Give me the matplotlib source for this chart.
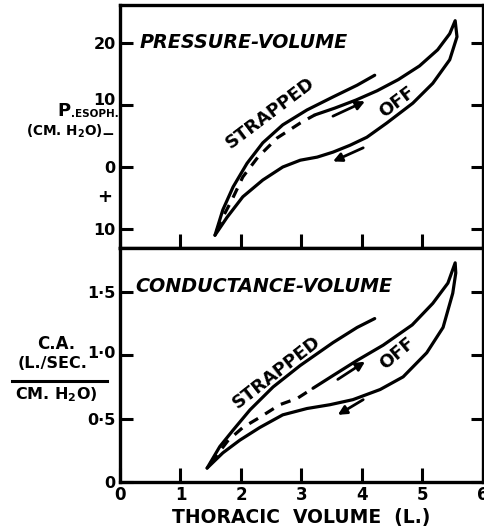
import matplotlib
matplotlib.use("Agg")
import matplotlib.pyplot as plt
import matplotlib.transforms as mtransforms

# ---------------- data ----------------
# top panel: pressure-volume (P.esoph, cm H2O; up = negative)
pv_strapped_x = [1.57, 1.70, 1.87, 2.10, 2.36, 2.69, 3.09, 3.52, 3.92, 4.21]
pv_strapped_y = [-11.0, -6.9, -3.2, 0.6, 3.9, 6.8, 9.2, 11.3, 13.2, 14.8]
pv_off_dash_x = [1.60, 1.65, 1.85, 2.03, 2.28, 2.60, 2.98, 3.22]
pv_off_dash_y = [-10.3, -9.0, -5.3, -1.6, 1.6, 4.7, 7.1, 8.4]
pv_off_up_x = [3.22, 3.55, 3.90, 4.25, 4.60, 4.95, 5.25, 5.45, 5.54]
pv_off_up_y = [8.4, 9.5, 10.8, 12.3, 14.1, 16.3, 18.9, 21.5, 23.6]
pv_off_low_x = [1.57, 1.77, 2.03, 2.36, 2.69, 2.98, 3.26, 3.52, 3.80, 4.08,
                4.41, 4.84, 5.17, 5.45, 5.57, 5.54]
pv_off_low_y = [-11.0, -8.1, -4.8, -2.1, 0.0, 1.1, 1.6, 2.4, 3.5, 4.8,
                7.1, 10.3, 13.5, 17.3, 21.0, 23.6]
pv_arrow_in = [(3.52, 8.2), (4.05, 10.6)]
pv_arrow_out = [(4.02, 3.1), (3.52, 0.9)]
pv_yticks = [20, 10, 0, -10]
pv_yticklabels = ["20", "10", "0", "10"]

# bottom panel: conductance-volume
cv_strapped_x = [1.44, 1.65, 1.87, 2.15, 2.53, 2.98, 3.52, 3.92, 4.21]
cv_strapped_y = [0.11, 0.28, 0.41, 0.57, 0.75, 0.92, 1.10, 1.22, 1.29]
cv_off_dash_x = [1.50, 1.79, 2.03, 2.31, 2.64, 2.93, 3.19]
cv_off_dash_y = [0.15, 0.33, 0.43, 0.51, 0.61, 0.66, 0.74]
cv_off_up_x = [3.19, 3.52, 3.92, 4.35, 4.83, 5.17, 5.42, 5.54]
cv_off_up_y = [0.74, 0.84, 0.96, 1.08, 1.24, 1.41, 1.57, 1.73]
cv_off_low_x = [1.44, 1.70, 1.98, 2.31, 2.69, 3.09, 3.47, 3.85, 4.30, 4.68,
                5.07, 5.34, 5.50, 5.55, 5.54]
cv_off_low_y = [0.11, 0.23, 0.33, 0.43, 0.53, 0.58, 0.61, 0.65, 0.73, 0.83,
                1.02, 1.22, 1.49, 1.65, 1.73]
cv_arrow_in = [(3.60, 0.81), (4.05, 0.95)]
cv_arrow_out = [(4.02, 0.65), (3.60, 0.53)]
cv_yticks = [0, 0.5, 1.0, 1.5]
cv_yticklabels = ["0", "0·5", "1·0", "1·5"]

x_ticks = [0, 1, 2, 3, 4, 5, 6]
x_ticklabels = ["0", "1", "2", "3", "4", "5", "6"]

# ---------------- figure ----------------
W, H = 485, 526
fig = plt.figure(figsize=(W / 100, H / 100), dpi=100)
plt.rcParams["font.family"] = ["DejaVu Sans"]
plt.rcParams["font.weight"] = "bold"

def fx(px):
    return px / W

def fy(py):
    return 1 - py / H

ax1 = fig.add_axes([fx(120), fy(248), (483 - 120) / W, (248 - 5) / H])
ax2 = fig.add_axes([fx(120), fy(482), (483 - 120) / W, (482 - 248) / H])

LW = 2.3
for ax in (ax1, ax2):
    for s in ax.spines.values():
        s.set_linewidth(2.4)
    ax.set_xlim(0, 6)
    ax.set_xticks(x_ticks)
    ax.tick_params(axis="both", direction="in", length=9, width=2.2,
                   right=True, top=False, labelsize=11.5, pad=3)
    ax.tick_params(axis="x", length=10)

ax1.set_ylim(-13.06, 26.13)
ax2.set_ylim(0, 1.847)
ax1.set_yticks(pv_yticks)
ax1.set_yticklabels(pv_yticklabels)
ax2.set_yticks(cv_yticks)
ax2.set_yticklabels(cv_yticklabels)
ax1.tick_params(axis="x", labelbottom=False)
ax2.set_xticklabels(x_ticklabels)
ax2.tick_params(axis="x", pad=3, labelsize=12)
for lab in ax1.get_yticklabels() + ax2.get_yticklabels() + ax2.get_xticklabels():
    lab.set_fontweight("bold")

# raised "10" label as in the original lettering
raise_t = mtransforms.ScaledTranslation(0, 4.5 / 72, fig.dpi_scale_trans)
lab10 = ax1.get_yticklabels()[1]
lab10.set_transform(lab10.get_transform() + raise_t)
raise_t2 = mtransforms.ScaledTranslation(0, 2.5 / 72, fig.dpi_scale_trans)
lab1 = ax2.get_yticklabels()[2]
lab1.set_transform(lab1.get_transform() + raise_t2)

def draw(ax, sx, sy, dx, dy, ux, uy, lx, ly, ain, aout):
    ax.plot(sx, sy, color="black", lw=LW, solid_capstyle="round",
            solid_joinstyle="round")
    ax.plot(dx, dy, color="black", lw=LW, linestyle=(0, (3.2, 2.6)))
    ax.plot(lx + ux[::-1], ly + uy[::-1], color="black", lw=LW,
            solid_capstyle="round", solid_joinstyle="round")
    for (a, b) in (ain, aout):
        ax.annotate("", xy=b, xytext=a,
                    arrowprops=dict(arrowstyle="-|>", color="black", lw=2.0,
                                    mutation_scale=13, shrinkA=0, shrinkB=0))

draw(ax1, pv_strapped_x, pv_strapped_y, pv_off_dash_x, pv_off_dash_y,
     pv_off_up_x, pv_off_up_y, pv_off_low_x, pv_off_low_y,
     pv_arrow_in, pv_arrow_out)
draw(ax2, cv_strapped_x, cv_strapped_y, cv_off_dash_x, cv_off_dash_y,
     cv_off_up_x, cv_off_up_y, cv_off_low_x, cv_off_low_y,
     cv_arrow_in, cv_arrow_out)

# panel titles and curve labels
title_kw = dict(fontsize=13.8, fontweight="bold", style="oblique",
                ha="left", va="center")
fig.text(fx(140), fy(43), "PRESSURE-VOLUME", **title_kw)
fig.text(fx(135), fy(286), "CONDUCTANCE-VOLUME", **title_kw)

lab_kw = dict(fontsize=13, fontweight="bold", ha="center", va="center")
fig.text(fx(270), fy(113), "STRAPPED", rotation=37, **lab_kw)
fig.text(fx(397), fy(102), "OFF", rotation=37, **lab_kw)
fig.text(fx(277), fy(372), "STRAPPED", rotation=38, **lab_kw)
fig.text(fx(397), fy(353), "OFF", rotation=40, **lab_kw)

# sign markers on the pressure axis
fig.text(fx(108), fy(134), "−", fontsize=11, fontweight="bold",
         ha="center", va="center")
fig.text(fx(105), fy(197), "+", fontsize=13, fontweight="bold",
         ha="center", va="center")

# y-axis labels
fig.text(fx(57), fy(111), "P", fontsize=13, fontweight="bold",
         ha="left", va="center")
fig.text(fx(71), fy(114), ".ESOPH.", fontsize=7.5, fontweight="bold",
         ha="left", va="center")
fig.text(fx(64), fy(131), r"(CM. H$_{\mathbf{2}}$O)", fontsize=9.8,
         fontweight="bold", ha="center", va="center")

fig.text(fx(56), fy(344), "C.A.", fontsize=12, fontweight="bold",
         ha="center", va="center")
fig.text(fx(53), fy(363), "(L./SEC.", fontsize=11.5, fontweight="bold",
         ha="center", va="center")
fig.add_artist(plt.Line2D([fx(12), fx(107)], [fy(381), fy(381)],
                          color="black", lw=2.2))
fig.text(fx(56), fy(395), r"CM. H$_{\mathbf{2}}$O)", fontsize=11.5,
         fontweight="bold", ha="center", va="center")

# x-axis label
fig.text(fx(301), fy(518), "THORACIC  VOLUME  (L.)", fontsize=13.5,
         fontweight="bold", ha="center", va="center")

fig.savefig("out.png", dpi=100)
